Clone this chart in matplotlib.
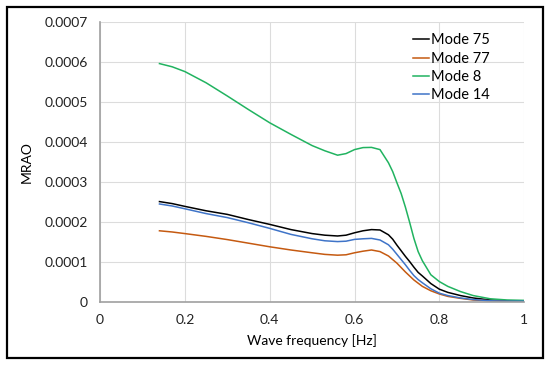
import matplotlib
matplotlib.use("Agg")
import matplotlib.pyplot as plt
from matplotlib.patches import Rectangle

plt.rcParams["font.family"] = ["Lato", "DejaVu Sans"]
plt.rcParams["font.size"] = 10

# wave frequency [Hz]
freq = [0.14, 0.17, 0.2, 0.25, 0.3, 0.35, 0.4, 0.45, 0.5, 0.53, 0.56, 0.58, 0.6,
        0.62, 0.64, 0.66, 0.68, 0.69, 0.70, 0.71, 0.72, 0.73, 0.74, 0.75, 0.76,
        0.78, 0.8, 0.82, 0.85, 0.88, 0.92, 0.96, 1.0]

# MRAO values (x 1e-4)
mode75 = [2.50, 2.45, 2.38, 2.27, 2.18, 2.05, 1.93, 1.80, 1.70, 1.66, 1.64, 1.66, 1.72,
          1.77, 1.80, 1.79, 1.67, 1.56, 1.41, 1.27, 1.13, 1.00, 0.86, 0.73, 0.64,
          0.45, 0.31, 0.23, 0.15, 0.09, 0.04, 0.02, 0.01]
mode77 = [1.77, 1.74, 1.70, 1.63, 1.55, 1.46, 1.37, 1.29, 1.22, 1.18, 1.16, 1.17, 1.22,
          1.26, 1.29, 1.25, 1.14, 1.05, 0.96, 0.85, 0.74, 0.64, 0.54, 0.46, 0.38,
          0.27, 0.19, 0.13, 0.08, 0.04, 0.02, 0.01, 0.01]
mode8 = [5.95, 5.87, 5.75, 5.47, 5.14, 4.80, 4.47, 4.18, 3.90, 3.77, 3.66, 3.70, 3.80,
         3.85, 3.855, 3.80, 3.47, 3.25, 2.97, 2.70, 2.36, 1.98, 1.58, 1.25, 1.02,
         0.67, 0.50, 0.38, 0.25, 0.15, 0.07, 0.04, 0.03]
mode14 = [2.44, 2.39, 2.32, 2.20, 2.10, 1.97, 1.83, 1.68, 1.57, 1.52, 1.50, 1.51, 1.555,
          1.57, 1.58, 1.54, 1.42, 1.31, 1.18, 1.05, 0.92, 0.78, 0.65, 0.55, 0.47,
          0.32, 0.21, 0.15, 0.09, 0.05, 0.02, 0.01, 0.01]

series = [("Mode 75", mode75, "#000000"),
          ("Mode 77", mode77, "#c55a11"),
          ("Mode 8", mode8, "#21b360"),
          ("Mode 14", mode14, "#3f74c8")]

x_ticks = [0, 0.2, 0.4, 0.6, 0.8, 1]
x_labels = ["0", "0.2", "0.4", "0.6", "0.8", "1"]
y_ticks = [0, 0.0001, 0.0002, 0.0003, 0.0004, 0.0005, 0.0006, 0.0007]
y_labels = ["0", "0.0001", "0.0002", "0.0003", "0.0004", "0.0005", "0.0006", "0.0007"]

fig = plt.figure(figsize=(5.5, 3.66), dpi=100)
ax = fig.add_axes([0.182, 0.176, 0.771, 0.765])

for name, vals, col in series:
  ax.plot(freq, [v * 1e-4 for v in vals], color=col, lw=1.1, label=name,
          solid_joinstyle="round")

ax.set_xlim(0, 1)
ax.set_ylim(0, 0.0007)
ax.set_xticks(x_ticks, x_labels)
ax.set_yticks(y_ticks, y_labels)
ax.tick_params(length=0, labelsize=10, colors="#222222")
ax.tick_params(axis="y", pad=9)
ax.tick_params(axis="x", pad=9)
ax.grid(True, color="#dcdcdc", lw=0.8)
ax.set_axisbelow(True)
for s in ["top", "right"]:
  ax.spines[s].set_visible(False)
for s in ["left", "bottom"]:
  ax.spines[s].set_color("#a0a0a0")
  ax.spines[s].set_linewidth(1.2)

ax.set_xlabel("Wave frequency [Hz]", fontsize=10, labelpad=6)
ax.set_ylabel("MRAO", fontsize=10, labelpad=8)

leg = ax.legend(loc="upper right", bbox_to_anchor=(0.95, 1.005), frameon=False,
                handlelength=1.1, handletextpad=0.1, labelspacing=0.3, fontsize=10.5)

# outer border
fig.add_artist(Rectangle((7 / 550, 1 - 358 / 366), 536 / 550, 351 / 366,
                         transform=fig.transFigure, fill=False, lw=1.6, ec="black"))

fig.savefig("out.png", dpi=100)
